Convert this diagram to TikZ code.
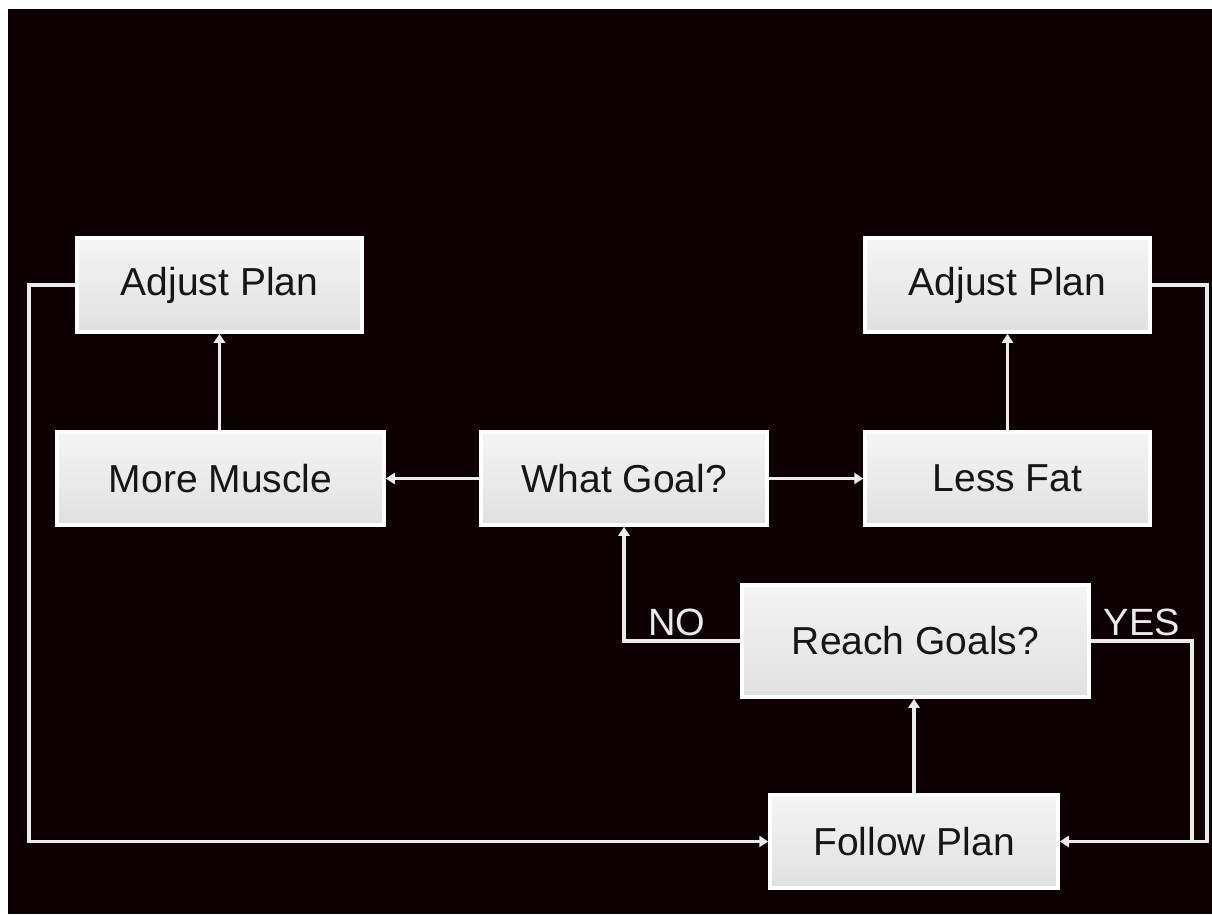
\documentclass[tikz,border=0pt]{standalone}
\usepackage{fontspec}
\setmainfont{Liberation Sans}
\usetikzlibrary{arrows.meta}
\definecolor{bgc}{RGB}{13,0,3}
\definecolor{linec}{RGB}{235,235,235}
\definecolor{txtc}{RGB}{22,22,22}
\begin{document}
\begin{tikzpicture}[x=1pt,y=-1pt,
  box/.style={draw=white, line width=3.5pt, top color=white!92!gray, bottom color=white!76!gray,
    font=\fontsize{39}{42}\selectfont, text=txtc, inner sep=0pt, anchor=center},
  conn/.style={draw=linec, line width=3.5pt},
  arr/.style={conn, -{Triangle[length=9pt,width=11pt]}},
  lab/.style={text=linec, font=\fontsize{38}{41}\selectfont, inner sep=0pt, anchor=base}]
\fill[white] (0,0) rectangle (1212,914);
\fill[bgc] (8,9) rectangle (1212,914);
\useasboundingbox (0,0) rectangle (1212,914);

\node[box, minimum width=285pt, minimum height=94pt] (adjL) at (219.5,285) {Adjust Plan};
\node[box, minimum width=327pt, minimum height=93pt] (muscle) at (220.5,478.5) {More Muscle};
\node[box, minimum width=286pt, minimum height=93pt] (goal) at (624,478.5) {What Goal?};
\node[box, minimum width=285pt, minimum height=93pt] (fat) at (1007.5,478.5) {Less Fat};
\node[box, minimum width=285pt, minimum height=94pt] (adjR) at (1007.5,285) {Adjust Plan};
\node[box, minimum width=347pt, minimum height=112pt] (reach) at (915.5,641) {Reach Goals?};
\node[box, minimum width=288pt, minimum height=93pt] (follow) at (914,841.5) {Follow Plan};

\coordinate (lx) at (29,0);
\coordinate (rx) at (1207,0);
\coordinate (yx) at (1192,0);

\draw[arr] (goal.west) -- (muscle.east);
\draw[arr] (goal.east) -- (fat.west);
\draw[arr] (adjL.south |- muscle.north) -- (adjL.south);
\draw[arr] (fat.north) -- (adjR.south);
\draw[arr] (follow.north) -- (follow.north |- reach.south);
\draw[arr] (reach.west) -| (goal.south);
\draw[arr] (adjL.west) -| (lx |- follow.west) -- (follow.west);
\draw[arr] (adjR.east) -| (rx |- follow.east) -- (follow.east);
\draw[conn] (reach.east) -| (yx |- follow.east);

\node[lab] (no) at (677,635) {NO};
\node[lab] (yes) at (1142,635) {YES};
\end{tikzpicture}
\end{document}
